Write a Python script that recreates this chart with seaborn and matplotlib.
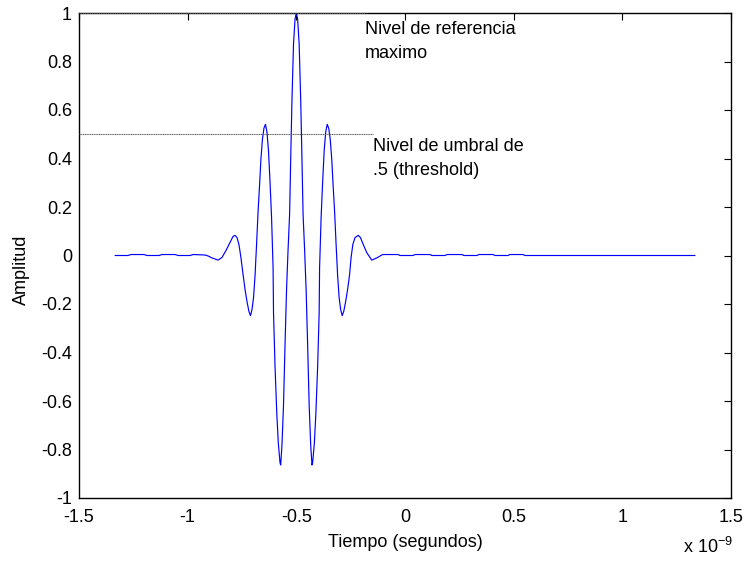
import matplotlib
matplotlib.use("Agg")
import matplotlib.pyplot as plt
import seaborn as sns
import pandas as pd

# time in units of 1e-9 s
time_ns = [
    -1.334, -1.275, -1.261, -1.201, -1.187, -1.132, -1.118, -1.058, -1.044, -0.989,
    -0.975, -0.920, -0.906, -0.888, -0.860, -0.842, -0.824, -0.805, -0.791, -0.782,
    -0.773, -0.764, -0.755, -0.745, -0.736, -0.727, -0.718, -0.711, -0.704, -0.697,
    -0.690, -0.683, -0.676, -0.669, -0.663, -0.656, -0.649, -0.642, -0.635, -0.628,
    -0.621, -0.614, -0.607, -0.605, -0.598, -0.590, -0.583, -0.575, -0.572, -0.566,
    -0.559, -0.552, -0.545, -0.538, -0.531, -0.525, -0.520, -0.513, -0.506, -0.500,
    -0.494, -0.487, -0.480, -0.475, -0.469, -0.462, -0.455, -0.448, -0.441, -0.434,
    -0.428, -0.425, -0.417, -0.410, -0.402, -0.395, -0.393, -0.386, -0.379, -0.372,
    -0.365, -0.358, -0.351, -0.344, -0.337, -0.331, -0.324, -0.317, -0.310, -0.303,
    -0.296, -0.289, -0.282, -0.273, -0.264, -0.255, -0.248, -0.240, -0.230, -0.215,
    -0.205, -0.192, -0.176, -0.153, -0.130, -0.107, -0.101, -0.032, -0.023, 0.037,
    0.046, 0.115, 0.124, 0.184, 0.193, 0.262, 0.271, 0.331, 0.340, 0.405,
    0.414, 0.474, 0.483, 0.543, 0.552, 1.334,
]
amplitude = [
    0.0, 0.0, 0.004, 0.004, 0.0, 0.0, 0.004, 0.004, 0.0, 0.0,
    0.004, 0.002, -0.002, -0.010, -0.019, -0.008, 0.020, 0.054, 0.079, 0.083,
    0.074, 0.045, -0.008, -0.079, -0.140, -0.190, -0.231, -0.248, -0.223, -0.174,
    -0.083, 0.045, 0.182, 0.293, 0.397, 0.479, 0.525, 0.541, 0.508, 0.430,
    0.302, 0.157, -0.050, -0.236, -0.459, -0.649, -0.773, -0.855, -0.864, -0.780,
    -0.616, -0.368, -0.140, 0.025, 0.169, 0.438, 0.645, 0.872, 0.975, 1.000,
    0.975, 0.872, 0.645, 0.438, 0.169, 0.025, -0.140, -0.368, -0.616, -0.780,
    -0.864, -0.855, -0.773, -0.649, -0.459, -0.236, -0.050, 0.157, 0.302, 0.430,
    0.508, 0.541, 0.525, 0.479, 0.397, 0.293, 0.182, 0.045, -0.083, -0.174,
    -0.223, -0.248, -0.231, -0.190, -0.140, -0.079, -0.008, 0.045, 0.074, 0.083,
    0.074, 0.045, 0.012, -0.019, -0.010, 0.002, 0.004, 0.004, 0.0, 0.0,
    0.004, 0.004, 0.0, 0.0, 0.004, 0.004, 0.0, 0.0, 0.004, 0.004,
    0.0, 0.0, 0.004, 0.004, 0.0, 0.0,
]

ref_levels = [1.0, 0.5]
ref_line_end = [-0.184, -0.147]
ref_text_lines = [["Nivel de referencia", "maximo"], ["Nivel de umbral de", ".5 (threshold)"]]
ref_text_y = [[0.913, 0.815], [0.430, 0.331]]

x_ticks = [-1.5, -1.0, -0.5, 0.0, 0.5, 1.0, 1.5]
x_tick_labels = ["-1.5", "-1", "-0.5", "0", "0.5", "1", "1.5"]
y_ticks = [-1.0, -0.8, -0.6, -0.4, -0.2, 0.0, 0.2, 0.4, 0.6, 0.8, 1.0]
y_tick_labels = ["-1", "-0.8", "-0.6", "-0.4", "-0.2", "0", "0.2", "0.4", "0.6", "0.8", "1"]

FS = 13

sns.set_theme(style="white")
plt.rcParams["font.family"] = ["Liberation Sans", "DejaVu Sans"]
plt.rcParams["mathtext.fontset"] = "custom"
plt.rcParams["mathtext.rm"] = "Liberation Sans"
plt.rcParams["mathtext.it"] = "Liberation Sans"

fig = plt.figure(figsize=(7.48, 5.65), dpi=100)
ax = fig.add_axes([79 / 748, 1 - 498 / 565, (731 - 79) / 748, (498 - 13) / 565])

df = pd.DataFrame({"t": time_ns, "a": amplitude})
sns.lineplot(data=df, x="t", y="a", ax=ax, color="#0000ff", linewidth=0.85,
             sort=False, estimator=None)

for lvl, xe, lines, ys in zip(ref_levels, ref_line_end, ref_text_lines, ref_text_y):
    ax.plot([-1.5, xe], [lvl, lvl], color="#555555", linewidth=0.8,
            linestyle=(0, (1, 0.6)), zorder=5, clip_on=False)
    for txt, yy in zip(lines, ys):
        ax.text(xe, yy, txt, fontsize=FS, color="black", ha="left", va="baseline")

ax.set_xlim(-1.5, 1.5)
ax.set_ylim(-1, 1)
ax.set_xticks(x_ticks)
ax.set_xticklabels(x_tick_labels)
ax.set_yticks(y_ticks)
ax.set_yticklabels(y_tick_labels)
ax.tick_params(direction="in", length=5, width=0.8, color="black", labelsize=FS,
               top=True, right=True, labelcolor="black")
ax.tick_params(axis="x", pad=8)
ax.tick_params(axis="y", pad=5)
for s in ax.spines.values():
    s.set_color("black")
    s.set_linewidth(1.0)
    s.set_visible(True)

ax.set_xlabel("Tiempo (segundos)", fontsize=FS, color="black", labelpad=6)
ax.set_ylabel("Amplitud", fontsize=FS, color="black")
ax.yaxis.set_label_coords(-0.075, 0.47)
fig.text(683 / 748, 1 - 553 / 565, r"x 10$^{-9}$", fontsize=FS, color="black",
         ha="left", va="baseline")

fig.savefig("out.png", dpi=100)
